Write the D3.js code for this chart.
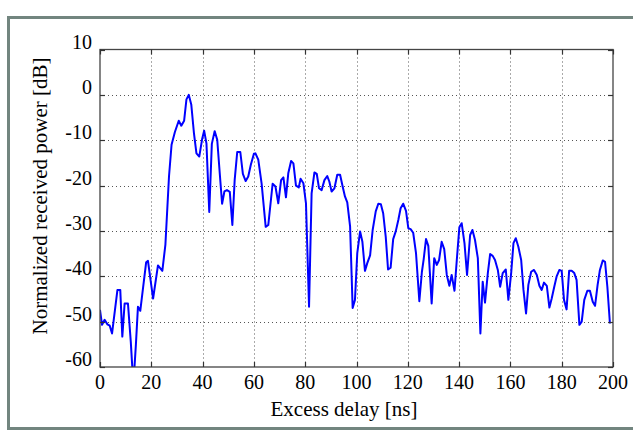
<!DOCTYPE html>
<html>
<head>
<meta charset="utf-8">
<script src="https://cdn.jsdelivr.net/npm/d3@7"></script>
<style>
  html, body { margin: 0; padding: 0; background: #fff; }
  svg { display: block; }
  text { font-family: "Liberation Serif", "Times New Roman", serif; fill: #000; }
</style>
</head>
<body>
<div id="chart"></div>
<script>
// --- Données (retard en ns, puissance en dB)
const delay = [
  0.0, 0.8, 1.8, 2.9, 3.8, 4.7, 6.8, 7.9, 8.7, 9.6, 10.9, 12.0, 13.0, 14.0, 14.8, 15.7,
  18.0, 18.7, 20.7, 22.6, 24.3, 25.5, 26.9, 27.9, 29.2, 30.7, 31.7, 32.8, 33.7, 34.6,
  35.6, 36.6, 37.6, 38.7, 39.8, 40.6, 41.5, 42.6, 43.6, 44.7, 45.7, 46.7, 47.6, 48.5,
  49.5, 50.6, 51.6, 52.5, 53.5, 54.7, 55.7, 56.8, 57.8, 58.8, 60.0, 60.6, 61.7, 63.0,
  64.6, 65.6, 67.3, 68.4, 69.5, 70.6, 71.5, 72.5, 73.4, 74.5, 75.4, 76.4, 77.5, 78.2,
  79.3, 80.3, 81.5, 82.5, 83.6, 84.5, 85.4, 86.4, 87.5, 88.6, 89.4, 90.3, 91.4, 92.5,
  93.6, 94.6, 95.5, 96.4, 97.5, 98.5, 99.4, 100.3, 101.4, 102.3, 103.3, 104.2, 105.3,
  106.3, 107.5, 108.5, 109.5, 110.4, 111.4, 112.3, 113.3, 114.3, 115.3, 116.3, 117.2,
  118.2, 119.3, 120.2, 121.1, 122.1, 123.2, 124.5, 125.5, 126.2, 127.1, 128.0, 129.3,
  130.3, 131.3, 132.2, 133.2, 134.2, 135.2, 136.2, 137.1, 138.2, 139.1, 140.1, 141.0,
  142.1, 143.1, 144.3, 145.2, 146.2, 147.3, 148.3, 149.2, 150.1, 151.2, 152.1, 153.1,
  154.0, 155.1, 156.0, 157.0, 158.2, 159.2, 160.3, 161.2, 162.1, 163.1, 164.2, 165.1,
  166.1, 167.0, 168.1, 169.2, 170.3, 171.3, 172.2, 173.1, 174.2, 175.2, 176.1, 177.1,
  178.0, 179.1, 180.0, 180.9, 181.9, 182.9, 183.9, 184.9, 185.8, 186.9, 187.8, 188.8,
  190.0, 191.0, 192.1, 193.0, 194.0, 194.9, 196.0, 196.9, 197.8, 198.8
];
const power = [
  -47.4, -50.7, -49.6, -50.6, -50.9, -52.6, -43.0, -43.0, -53.3, -46.0, -46.0, -54.4, -64.0, -55.0, -46.7, -47.6,
  -36.9, -36.6, -44.9, -37.6, -38.8, -33.0, -18.0, -11.0, -8.2, -5.7, -6.8, -5.7, -1.0, 0.0,
  -2.2, -8.3, -12.9, -13.6, -9.8, -7.9, -10.7, -25.8, -10.8, -8.0, -9.9, -17.4, -24.0, -21.3,
  -21.0, -21.4, -28.7, -18.8, -12.6, -12.6, -17.4, -19.0, -18.0, -15.4, -13.0, -12.9, -14.3, -19.5,
  -29.1, -28.7, -19.6, -20.2, -23.9, -18.8, -18.2, -22.6, -17.3, -14.6, -15.1, -20.0, -20.4, -18.5,
  -19.5, -23.9, -46.7, -21.7, -17.1, -17.4, -20.6, -21.0, -18.8, -17.9, -19.1, -21.3, -20.6, -17.6,
  -17.6, -20.2, -22.4, -23.7, -29.0, -47.0, -45.2, -34.9, -30.1, -32.4, -38.8, -37.1, -35.4,
  -29.8, -25.7, -24.0, -24.1, -26.1, -31.3, -38.5, -38.1, -31.8, -30.1, -27.6, -25.0,
  -24.0, -25.6, -29.4, -29.6, -30.4, -34.9, -45.5, -39.0, -36.2, -31.8, -33.3, -46.0,
  -36.0, -37.5, -36.4, -32.4, -34.0, -39.7, -42.1, -39.7, -43.2, -36.4, -29.2, -28.3,
  -32.7, -39.7, -30.9, -29.8, -32.0, -36.0, -52.6, -41.2, -45.8, -39.3, -35.1, -35.5,
  -36.4, -38.6, -42.3, -39.3, -38.5, -45.2, -39.3, -32.7, -31.6, -33.5, -36.4, -43.0,
  -48.2, -41.9, -39.0, -38.6, -39.7, -42.1, -43.0, -41.4, -42.1, -46.9, -44.9, -42.3,
  -40.1, -38.6, -38.8, -45.2, -47.3, -38.8, -38.8, -39.3, -40.8, -50.7, -50.0, -45.2,
  -43.2, -43.2, -45.6, -46.5, -41.9, -38.6, -36.5, -36.8, -42.3, -50.4
];
const xTicks = [0, 20, 40, 60, 80, 100, 120, 140, 160, 180, 200];
const yTicks = [10, 0, -10, -20, -30, -40, -50, -60];

// --- Dimensions
const width = 633;
const height = 432;
const plot = { left: 100, right: 613, top: 49.5, bottom: 367 };

const svg = d3.select("#chart")
  .append("svg")
  .attr("width", width)
  .attr("height", height);

// Cadre gris autour de la figure
svg.append("rect")
  .attr("x", 8.5)
  .attr("y", 17.5)
  .attr("width", 660)
  .attr("height", 411)
  .attr("fill", "#fff")
  .attr("stroke", "#72857f")
  .attr("stroke-width", 3);

// --- Echelles
const x = d3.scaleLinear().domain([0, 200]).range([plot.left, plot.right]);
const y = d3.scaleLinear().domain([-60, 10]).range([plot.bottom, plot.top]);

// --- Grille pointillée
const grid = svg.append("g");
grid.selectAll(".vgrid")
  .data(xTicks.slice(1, -1))
  .join("line")
  .attr("x1", d => Math.round(x(d)) + 0.5)
  .attr("x2", d => Math.round(x(d)) + 0.5)
  .attr("y1", plot.top)
  .attr("y2", plot.bottom)
  .attr("stroke", "#555")
  .attr("stroke-dasharray", "1,3");
grid.selectAll(".hgrid")
  .data(yTicks.slice(1, -1))
  .join("line")
  .attr("x1", plot.left)
  .attr("x2", plot.right)
  .attr("y1", d => Math.round(y(d)) + 0.5)
  .attr("y2", d => Math.round(y(d)) + 0.5)
  .attr("stroke", "#555")
  .attr("stroke-dasharray", "1,3");

// --- Courbe
svg.append("clipPath")
  .attr("id", "clip")
  .append("rect")
  .attr("x", plot.left)
  .attr("y", plot.top)
  .attr("width", plot.right - plot.left)
  .attr("height", plot.bottom - plot.top);

const line = d3.line()
  .x((d, i) => x(delay[i]))
  .y(d => y(d));

svg.append("path")
  .datum(power)
  .attr("clip-path", "url(#clip)")
  .attr("d", line)
  .attr("fill", "none")
  .attr("stroke", "#0000ff")
  .attr("stroke-width", 2)
  .attr("stroke-linejoin", "round");

// --- Boîte des axes
svg.append("rect")
  .attr("x", plot.left)
  .attr("y", plot.top)
  .attr("width", plot.right - plot.left)
  .attr("height", plot.bottom - plot.top)
  .attr("fill", "none")
  .attr("stroke", "#444")
  .attr("stroke-width", 1.3);

// Graduations vers l'intérieur (4 côtés)
const tickLen = 5;
const ticks = svg.append("g").attr("stroke", "#333").attr("stroke-width", 1.2);
xTicks.forEach(t => {
  const px = Math.round(x(t)) + 0.5;
  ticks.append("line").attr("x1", px).attr("x2", px)
    .attr("y1", plot.bottom).attr("y2", plot.bottom - tickLen);
  ticks.append("line").attr("x1", px).attr("x2", px)
    .attr("y1", plot.top).attr("y2", plot.top + tickLen);
});
yTicks.forEach(t => {
  const py = Math.round(y(t)) + 0.5;
  ticks.append("line").attr("y1", py).attr("y2", py)
    .attr("x1", plot.left).attr("x2", plot.left + tickLen);
  ticks.append("line").attr("y1", py).attr("y2", py)
    .attr("x1", plot.right).attr("x2", plot.right - tickLen);
});

// --- Etiquettes des graduations
svg.append("g").selectAll("text")
  .data(xTicks)
  .join("text")
  .attr("x", d => x(d))
  .attr("y", 389)
  .attr("text-anchor", "middle")
  .attr("font-size", 20)
  .text(d => d);

svg.append("g").selectAll("text")
  .data(yTicks)
  .join("text")
  .attr("x", 92)
  .attr("y", d => y(d))
  .attr("dy", "-0.05em")
  .attr("text-anchor", "end")
  .attr("font-size", 20)
  .text(d => d < 0 ? "-" + Math.abs(d) : d);

// --- Titres des axes
svg.append("text")
  .attr("x", 344)
  .attr("y", 416)
  .attr("text-anchor", "middle")
  .attr("font-size", 21)
  .text("Excess delay [ns]");

svg.append("text")
  .attr("transform", "translate(47,196) rotate(-90)")
  .attr("text-anchor", "middle")
  .attr("font-size", 21)
  .text("Normalized received power [dB]");
</script>
</body>
</html>
